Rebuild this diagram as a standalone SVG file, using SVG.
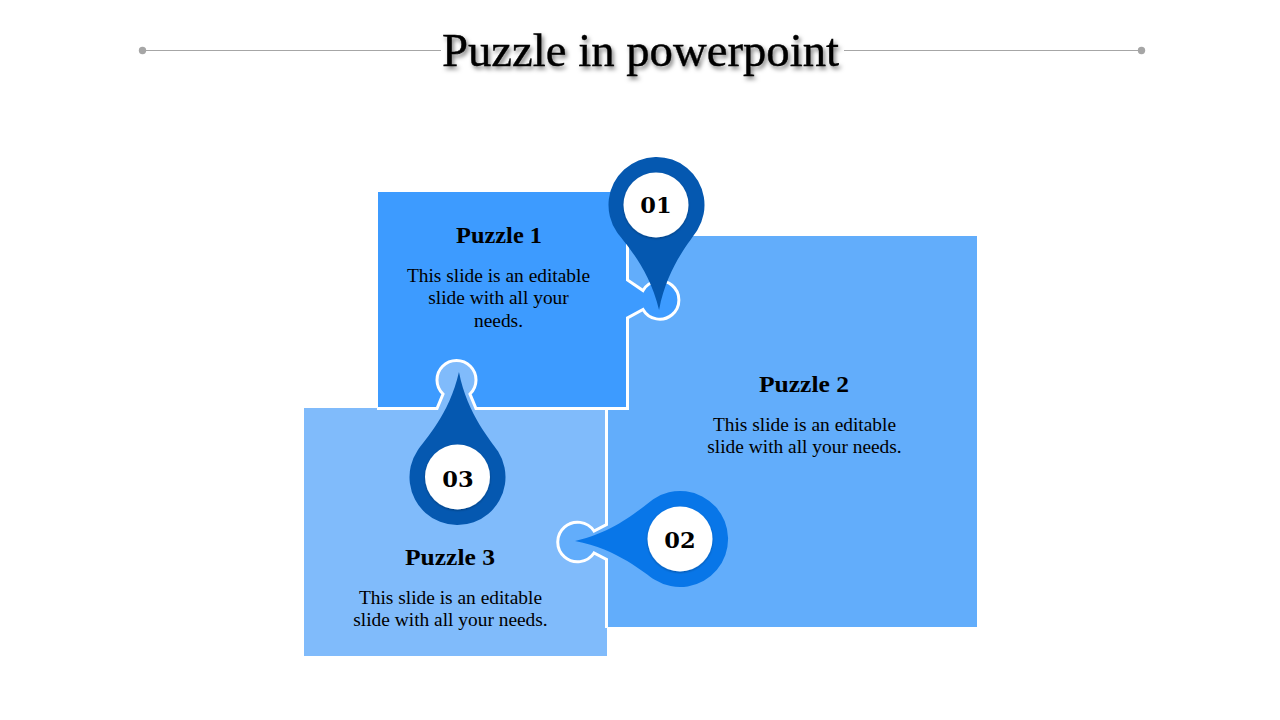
<svg xmlns="http://www.w3.org/2000/svg" width="1280" height="720" viewBox="0 0 1280 720">
<style>
text{font-family:"Liberation Serif","DejaVu Serif",serif;fill:#000;text-anchor:middle}
.h{font-size:24px;font-weight:bold}
.b{font-size:19.400px}
.n{font-family:"DejaVu Serif","Liberation Serif",serif;font-size:22.500px;font-weight:bold}
.rule{stroke:#a6a6a6;stroke-width:1;fill:none}
.dot{fill:#a6a6a6}
.edge{fill:none;stroke:#fff;stroke-width:3}
.hole{fill:#fff;filter:url(#s)}
</style>
<defs>
<filter id="t" x="-5%" y="-20%" width="110%" height="150%"><feDropShadow dx="2" dy="3" stdDeviation="2" flood-color="#000" flood-opacity=".5"/></filter>
<filter id="s" x="-20%" y="-20%" width="140%" height="140%"><feDropShadow dx="0" dy="1" stdDeviation="1" flood-color="#000" flood-opacity=".3"/></filter>
<path id="pin" d="M-40.300,26A48,48 0 1 1 40.300,26C33.800,36 9,62 0,105C-9,62 -33.800,36 -40.300,26Z"/>
</defs>
<rect width="1280" height="720" fill="#fff"/>
<g id="title">
<path class="rule" d="M142,50.500H441M844,50.500H1141"/>
<circle class="dot" cx="142.500" cy="50.500" r="3.700"/>
<circle class="dot" cx="1141.500" cy="50.500" r="3.700"/>
<text x="640.500" y="66" font-size="46" stroke="#000" stroke-width=".4" textLength="397" lengthAdjust="spacingAndGlyphs" filter="url(#t)">Puzzle in powerpoint</text>
</g>
<g id="puzzle-2">
<rect x="607" y="236" width="370" height="391" fill="#62adfb"/>
</g>
<g id="puzzle-1">
<path fill="#3d9bff" d="M378,192H627V280L643,290.500A19.200,19.200 0 1 1 643,309.500L627,318V408H378Z"/>
</g>
<g id="puzzle-3">
<path fill="#80bbfb" d="M304,408H437L443,394A19.500,19.500 0 1 1 470,394L476,408H607V656H304Z"/>
</g>
<g id="puzzle-2-knob">
<path fill="#62adfb" d="M607,524.500L594,531A19.800,19.800 0 1 0 594,553L607,559.500Z"/>
</g>
<g id="connectors">
<path class="edge" d="M627.500,236V280L643,290.500A19.200,19.200 0 1 1 643,309.500L627.500,318V408.500H476L470,394A19.500,19.500 0 1 0 443,394L437,408.500H377"/>
<path class="edge" d="M606.500,408.500V524.500L594,531A19.800,19.800 0 1 0 594,553L606.500,559.500V628"/>
</g>
<g id="pin-1">
<use href="#pin" fill="#0558b0" transform="translate(656.500,205) rotate(-1.400)"/>
<circle class="hole" cx="656" cy="205" r="32.500"/>
<text class="n" x="656" y="213">01</text>
</g>
<g id="pin-2">
<use href="#pin" fill="#0876e8" transform="translate(680,539) rotate(88.900)"/>
<circle class="hole" cx="680" cy="539" r="32.500"/>
<text class="n" x="680" y="548">02</text>
</g>
<g id="pin-3">
<use href="#pin" fill="#0558b0" transform="translate(457.500,477) rotate(180.800)"/>
<circle class="hole" cx="457.500" cy="477" r="32.500"/>
<text class="n" x="458" y="487">03</text>
</g>
<g id="label-1">
<text class="h" x="499" y="243" textLength="86" lengthAdjust="spacingAndGlyphs">Puzzle 1</text>
<text class="b" x="498.500" y="282">This slide is an editable</text>
<text class="b" x="498.500" y="304">slide with all your</text>
<text class="b" x="498.500" y="327">needs.</text>
</g>
<g id="label-2">
<text class="h" x="804" y="392" textLength="90" lengthAdjust="spacingAndGlyphs">Puzzle 2</text>
<text class="b" x="804.500" y="431">This slide is an editable</text>
<text class="b" x="804.500" y="453">slide with all your needs.</text>
</g>
<g id="label-3">
<text class="h" x="450" y="565" textLength="90" lengthAdjust="spacingAndGlyphs">Puzzle 3</text>
<text class="b" x="450.500" y="604">This slide is an editable</text>
<text class="b" x="450.500" y="626">slide with all your needs.</text>
</g>
</svg>
